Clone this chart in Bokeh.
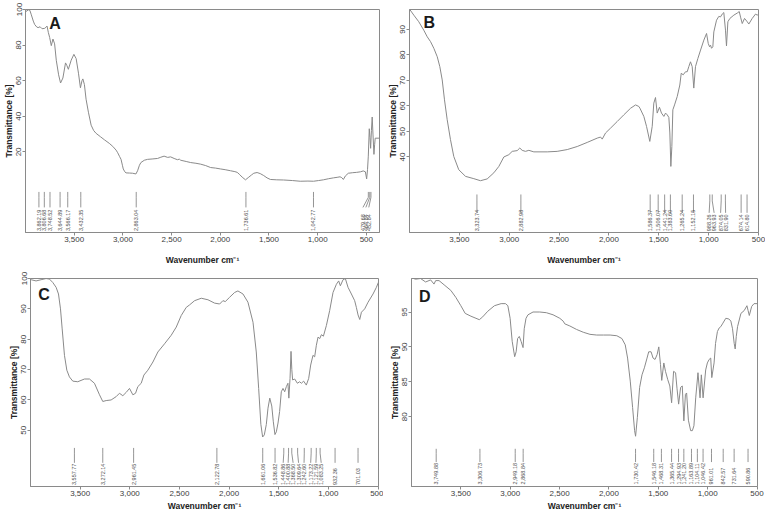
import numpy as np
from bokeh.plotting import figure
from bokeh.models import Range1d, FixedTicker, NumeralTickFormatter, Label
from bokeh.layouts import column, row
from bokeh.embed import file_html
from bokeh.resources import INLINE
from bokeh.core.properties import value

FONT = "Liberation Sans"
AXIS_COL = "#8a8a8a"
TEXT_COL = "#3c3c3c"
CURVE_COL = "#8a8a8a"

x_ticks = [500, 1000, 1500, 2000, 2500, 3000, 3500]

# ---------------- Panel A ----------------
a_wn = [3995, 3970, 3955, 3940, 3920, 3906, 3885, 3871, 3850, 3830, 3804, 3790, 3779, 3765, 3752, 3735,
        3718, 3701, 3684, 3660, 3640, 3616, 3589, 3575, 3560, 3531, 3503, 3480, 3456, 3436, 3420, 3411,
        3395, 3378, 3354, 3326, 3300, 3275, 3230, 3190, 3140, 3104, 3070, 3053, 3035, 3019, 3005, 2996,
        2980, 2968, 2930, 2900, 2866, 2849, 2830, 2815, 2780, 2746, 2700, 2644, 2610, 2577, 2540, 2510,
        2474, 2440, 2420, 2406, 2350, 2304, 2250, 2201, 2150, 2099, 2050, 1997, 1950, 1895, 1850, 1826,
        1800, 1775, 1741, 1707, 1680, 1656, 1622, 1590, 1554, 1520, 1486, 1420, 1350, 1260, 1179, 1100,
        1043, 990, 941, 890, 838, 800, 770, 752, 736, 715, 685, 640, 599, 560, 532, 510, 497, 488, 480,
        470, 463, 456, 448, 440, 432, 422, 415, 409, 380, 365]
a_t = [98.9, 99.8, 99.5, 97.0, 93.5, 91.6, 90.2, 89.8, 90.3, 89.2, 89.4, 90.0, 90.7, 87.0, 84.3, 79.7,
       83.4, 80.7, 71.5, 63.3, 58.7, 61.5, 70.0, 68.5, 66.4, 71.5, 74.8, 72.4, 64.2, 56.0, 60.0, 61.0,
       57.8, 49.6, 42.3, 35.0, 32.0, 30.4, 28.5, 26.8, 24.8, 23.1, 21.0, 19.5, 17.5, 15.8, 12.5, 10.4,
       8.8, 8.2, 8.1, 8.0, 7.6, 9.4, 12.5, 14.0, 15.3, 15.8, 16.0, 16.3, 17.0, 17.6, 16.9, 17.2,
       16.3, 15.6, 15.9, 15.3, 14.6, 14.0, 13.6, 13.1, 12.3, 11.2, 10.9, 10.4, 10.0, 9.4, 8.9, 8.5,
       7.2, 5.8, 4.3, 5.8, 7.0, 8.0, 8.4, 7.8, 6.7, 5.4, 4.5, 4.3, 4.2, 3.9, 3.5, 3.6,
       3.5, 3.9, 4.3, 4.9, 5.4, 5.7, 6.0, 5.5, 4.5, 6.5, 8.0, 8.3, 8.5, 8.8, 9.3, 8.8, 4.8, 10.0, 17.6,
       33.0, 28.0, 22.0, 32.0, 39.6, 30.0, 18.6, 24.0, 27.7, 27.7, 27.7]
a_peaks = [3862.19, 3806.68, 3748.52, 3644.89, 3566.17, 3432.35, 2863.04, 1736.61, 1042.77,
           479.68, 464.84, 452.84]
a_label_x = [3862.19, 3806.68, 3748.52, 3644.89, 3566.17, 3432.35, 2863.04, 1736.61, 1042.77,
             535, 505, 475]
a_yticks = [20, 40, 60, 80, 100]

# ---------------- Panel B ----------------
b_wn = [3997, 3957, 3907, 3857, 3822, 3789, 3756, 3722, 3696, 3672, 3649, 3622, 3589, 3556, 3506, 3438,
        3355, 3288, 3221, 3154, 3104, 3054, 3004, 2970, 2920, 2894, 2870, 2837, 2803, 2753, 2619, 2519,
        2418, 2318, 2218, 2117, 2084, 2067, 2034, 1984, 1917, 1851, 1783, 1733, 1700, 1689, 1650, 1623,
        1590, 1566, 1550, 1533, 1516, 1493, 1473, 1449, 1432, 1415, 1399, 1389, 1379, 1369, 1359, 1342,
        1315, 1289, 1275, 1255, 1232, 1215, 1199, 1182, 1165, 1149, 1132, 1108, 1081, 1048, 1021, 1004,
        991, 981, 971, 958, 948, 921, 898, 881, 864, 848, 831, 821, 807, 787, 747, 713, 693, 680, 663,
        640, 613, 597, 563, 530, 513, 500]
b_t = [97.8, 95.6, 93.0, 89.7, 87.1, 85.2, 82.6, 79.3, 75.4, 70.2, 62.4, 54.6, 46.8, 40.2, 35.0, 32.4,
       31.5, 30.7, 31.4, 33.8, 36.3, 40.0, 40.9, 42.2, 42.5, 43.5, 42.6, 42.2, 42.6, 42.0, 42.0, 42.2,
       42.9, 44.1, 45.7, 47.4, 47.8, 47.0, 49.4, 51.3, 53.9, 56.5, 59.1, 60.4, 59.8, 59.1, 55.9, 52.0,
       46.1, 52.0, 61.1, 63.3, 57.2, 59.5, 57.2, 55.9, 57.2, 56.5, 55.5, 49.4, 36.3, 44.1, 58.5, 60.4,
       63.7, 68.2, 72.8, 72.2, 73.4, 73.4, 75.4, 77.3, 75.4, 67.0, 75.4, 78.6, 81.9, 85.8, 88.4, 84.5,
       83.2, 83.8, 82.6, 83.2, 89.0, 93.6, 95.1, 94.9, 96.0, 96.6, 89.7, 83.5, 93.0, 94.3, 95.6, 96.4,
       97.0, 94.8, 92.3, 94.3, 93.0, 92.1, 94.3, 96.0, 95.6, 96.0]
b_peaks = [3323.74, 2882.98, 1586.37, 1506.07, 1441.24, 1383.60, 1265.24, 1152.15, 988.26, 963.93,
           874.05, 831.90, 674.14, 614.80]
b_label_x = [3323.74, 2882.98, 1586.37, 1506.07, 1441.24, 1383.60, 1265.24, 1152.15, 995, 945,
             880, 830, 674.14, 614.80]
b_yticks = [40, 50, 60, 70, 80, 90]

# ---------------- Panel C ----------------
c_wn = [3994, 3944, 3893, 3843, 3809, 3776, 3742, 3718, 3698, 3681, 3658, 3634, 3608, 3574, 3524, 3456,
        3406, 3356, 3305, 3272, 3238, 3188, 3137, 3104, 3070, 3036, 3003, 2969, 2942, 2919, 2885, 2858,
        2818, 2767, 2717, 2650, 2583, 2532, 2482, 2431, 2398, 2347, 2280, 2213, 2146, 2095, 2062, 2038,
        1995, 1944, 1911, 1860, 1810, 1759, 1726, 1702, 1680, 1662, 1645, 1625, 1608, 1590, 1570, 1555,
        1538, 1524, 1507, 1491, 1474, 1457, 1440, 1423, 1407, 1398, 1386, 1376, 1368, 1360, 1339, 1312,
        1289, 1272, 1249, 1222, 1198, 1178, 1155, 1138, 1121, 1104, 1087, 1070, 1050, 1020, 987, 953,
        919, 896, 879, 852, 829, 802, 768, 735, 718, 701, 684, 667, 634, 600, 550, 516, 495]
c_t = [99.6, 99.2, 99.6, 100.0, 99.8, 98.7, 97.1, 94.9, 90.0, 83.4, 74.7, 69.8, 67.6, 66.2, 66.0, 66.9,
       66.9, 65.5, 61.7, 59.5, 59.8, 60.0, 61.1, 62.2, 61.4, 62.5, 63.8, 61.7, 62.2, 64.4, 65.5, 68.2,
       69.8, 72.5, 75.8, 78.5, 81.3, 84.0, 87.8, 90.5, 91.3, 92.7, 93.5, 93.0, 91.9, 91.6, 92.7, 92.4,
       93.8, 95.4, 95.9, 94.9, 92.2, 85.6, 75.8, 63.8, 52.0, 47.8, 48.5, 51.9, 57.3, 60.6, 58.0, 53.0,
       48.6, 49.5, 52.4, 56.2, 62.7, 63.8, 62.7, 64.4, 65.5, 60.6, 67.1, 76.0, 70.0, 66.6, 66.9, 65.5,
       66.0, 65.5, 66.2, 64.9, 67.1, 71.5, 74.7, 74.2, 78.0, 80.7, 80.2, 81.5, 81.0, 84.5, 89.4, 95.4,
       98.1, 99.2, 97.6, 99.6, 100.0, 97.1, 94.9, 92.7, 90.5, 88.0, 86.5, 88.9, 90.0, 92.2, 94.9, 97.1, 98.8]
c_peaks = [3557.77, 3272.14, 2961.45, 2122.78, 1661.06, 1536.82, 1448.86, 1400.88, 1368.50, 1309.64,
           1242.60, 1173.22, 1121.59, 1083.25, 932.36, 701.03]
c_label_x = [3557.77, 3272.14, 2961.45, 2122.78, 1661.06, 1536.82, 1455, 1405, 1355, 1300,
             1245, 1178, 1125, 1072, 932.36, 701.03]
c_yticks = [50, 60, 70, 80, 90, 100]

# ---------------- Panel D ----------------
d_wn = [4000, 3959, 3908, 3857, 3806, 3772, 3755, 3721, 3670, 3602, 3551, 3500, 3456, 3398, 3347, 3313,
        3279, 3228, 3160, 3092, 3048, 3024, 3001, 2980, 2955, 2940, 2925, 2908, 2890, 2870, 2858, 2840,
        2820, 2769, 2701, 2634, 2566, 2498, 2464, 2447, 2396, 2328, 2260, 2192, 2124, 2056, 1988, 1920,
        1869, 1835, 1811, 1784, 1760, 1740, 1730, 1712, 1689, 1665, 1641, 1614, 1597, 1573, 1553, 1533,
        1512, 1495, 1478, 1465, 1444, 1427, 1404, 1383, 1365, 1345, 1325, 1310, 1294, 1274, 1257, 1241,
        1225, 1213, 1195, 1172, 1155, 1139, 1121, 1098, 1077, 1064, 1046, 1020, 1003, 985, 969, 958,
        935, 920, 901, 884, 867, 850, 816, 785, 765, 748, 731, 721, 710, 697, 663, 630, 602, 590, 578,
        554, 530, 495]
d_t = [99.9, 99.7, 99.8, 99.3, 99.6, 99.0, 99.5, 99.5, 98.9, 98.1, 97.1, 95.9, 94.8, 94.4, 94.1, 93.9,
       94.3, 95.1, 95.9, 96.2, 96.2, 95.9, 94.1, 90.8, 88.6, 89.3, 91.2, 91.5, 90.8, 89.9, 92.6, 94.1,
       94.6, 95.0, 95.0, 94.9, 94.6, 94.1, 93.7, 93.3, 93.0, 92.5, 92.1, 91.8, 91.7, 91.7, 91.7, 91.6,
       91.2, 90.3, 88.4, 85.1, 81.3, 78.0, 77.2, 79.9, 84.2, 86.0, 87.0, 88.4, 89.3, 89.3, 88.4, 88.2,
       88.9, 90.0, 87.5, 85.2, 87.7, 86.5, 85.3, 84.4, 82.0, 86.5, 86.3, 84.0, 81.8, 84.2, 84.4, 79.4,
       83.2, 83.4, 79.5, 78.0, 78.0, 78.7, 82.7, 86.3, 82.7, 86.0, 82.7, 86.7, 87.7, 88.2, 88.4, 85.6,
       87.7, 90.5, 92.2, 92.7, 92.9, 93.3, 94.1, 94.0, 93.7, 92.6, 90.5, 89.7, 91.5, 92.9, 94.8, 95.2,
       95.9, 95.2, 94.5, 95.8, 96.2, 96.2]
d_peaks = [3749.88, 3306.73, 2949.18, 2868.84, 1730.42, 1546.18, 1468.31, 1365.44, 1294.93, 1241.20,
           1163.89, 1104.11, 1046.42, 961.01, 842.57, 731.64, 590.86]
d_label_x = list(d_peaks)
d_yticks = [80, 85, 90, 95]


def make_panel(letter, wn, t, peaks, label_x, xr, yr, yticks, marks, letter_xy,
               width, height, mbl, mbr, mbt, mbb, xlabel_gap):
    p = figure(width=width, height=height, x_range=Range1d(*xr), y_range=Range1d(*yr),
               output_backend="svg", toolbar_location=None,
               min_border_left=mbl, min_border_right=mbr, min_border_top=mbt, min_border_bottom=mbb)
    p.grid.visible = False
    p.outline_line_color = AXIS_COL
    p.outline_line_width = 1
    p.background_fill_color = "white"
    p.border_fill_color = "white"

    p.line(wn, t, line_color=CURVE_COL, line_width=1)

    top, bot, lab = marks
    mid = top - 0.35 * (top - bot)
    xs = [[pk, pk, lx] for pk, lx in zip(peaks, label_x)]
    ys = [[top, mid, bot] for _ in peaks]
    p.multi_line(xs, ys, line_color="#7a7a7a", line_width=0.8)
    p.text(x=label_x, y=[lab] * len(peaks), text=["{:,.2f}".format(v) for v in peaks],
           angle=np.pi / 2, text_align="left", text_baseline="middle",
           text_font=value(FONT), text_font_size="5.5px", text_color="#505050")

    p.add_layout(Label(x=letter_xy[0], y=letter_xy[1], text=letter, text_font=FONT,
                       text_font_size="16px", text_font_style="bold", text_color="#1a1a1a",
                       text_baseline="top", text_align="left"))

    p.xaxis.ticker = FixedTicker(ticks=x_ticks)
    p.xaxis.formatter = NumeralTickFormatter(format="0,0")
    p.yaxis.ticker = FixedTicker(ticks=yticks)
    p.yaxis.major_label_orientation = "vertical"
    p.xaxis.axis_label = "Wavenumber cm\u207b\u00b9"
    p.yaxis.axis_label = "Transmittance [%]"
    for ax in (p.xaxis, p.yaxis):
        ax.axis_line_color = AXIS_COL
        ax.major_tick_line_color = AXIS_COL
        ax.minor_tick_line_color = None
        ax.major_tick_out = 3
        ax.major_tick_in = 0
        ax.major_label_text_font = FONT
        ax.major_label_text_font_size = "8px"
        ax.major_label_text_color = TEXT_COL
        ax.axis_label_text_font = FONT
        ax.axis_label_text_font_size = "8.5px"
        ax.axis_label_text_font_style = "bold"
        ax.axis_label_text_color = "#222222"
    p.xaxis.major_label_standoff = 1
    p.xaxis.axis_label_standoff = xlabel_gap
    p.yaxis.major_label_standoff = 1
    p.yaxis.axis_label_standoff = 0
    return p


pA = make_panel("A", a_wn, a_t, a_peaks, a_label_x, (4000, 365), (-25.3, 100), a_yticks,
                (-2.5, -11.2, -24.5), (3756, 97.1), 383, 267, 24, 4, 5, 34, 10)
pB = make_panel("B", b_wn, b_t, b_peaks, b_label_x, (4000, 500), (10.4, 97.8), b_yticks,
                (25.3, 18.1, 10.9), (3860, 96.0), 382, 267, 26, 7, 9, 34, 10)
pC = make_panel("C", c_wn, c_t, c_peaks, c_label_x, (4000, 495), (31.5, 100), c_yticks,
                (44.2, 39.3, 32.0), (3923, 97.6), 383, 246, 30, 5, 11, 25, 2)
pD = make_panel("D", d_wn, d_t, d_peaks, d_label_x, (4000, 495), (70, 99.8), d_yticks,
                (75.4, 73.5, 70.3), (3925, 98.5), 382, 246, 28, 8, 11, 25, 2)

layout = column(row(pA, pB), row(pC, pD))
open("out.html", "w").write(file_html(layout, INLINE))
